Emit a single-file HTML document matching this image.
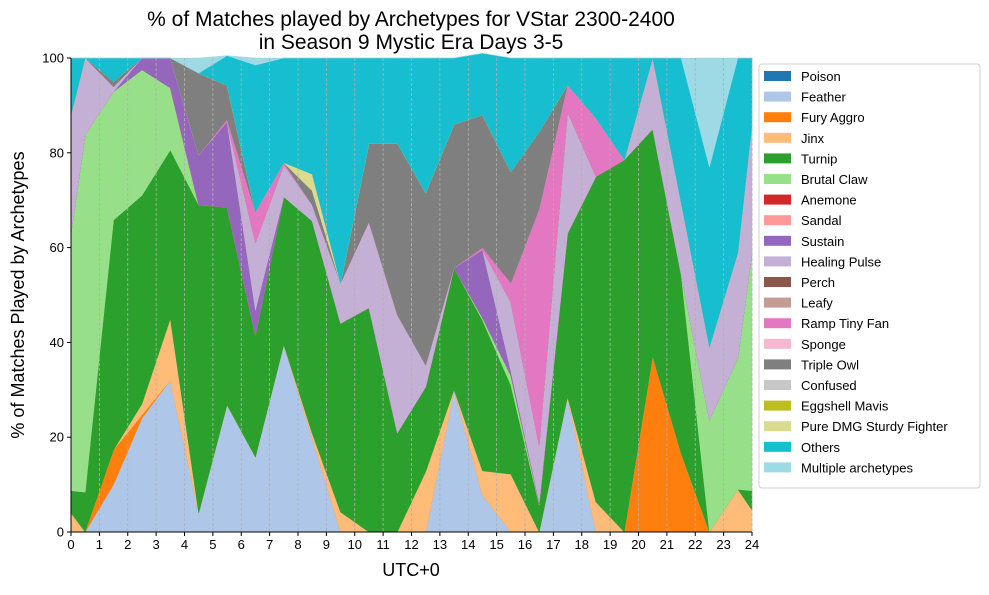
<!DOCTYPE html>
<html><head><meta charset="utf-8"><style>
body{margin:0;background:#fff;}
svg{font-family:"Liberation Sans","DejaVu Sans",sans-serif;}
</style></head><body>
<svg id="c" width="989" height="590" xmlns="http://www.w3.org/2000/svg">
<text x="411" y="26" font-size="21" text-anchor="middle">% of Matches played by Archetypes for VStar 2300-2400</text>
<text x="411" y="49" font-size="21" text-anchor="middle">in Season 9 Mystic Era Days 3-5</text>
<text x="411" y="576" font-size="18" text-anchor="middle">UTC+0</text>
<text transform="translate(24,295) rotate(-90)" font-size="18" text-anchor="middle">% of Matches Played by Archetypes</text>
</svg>
<script>
const hours=[0,0.5,1.5,2.5,3.5,4.5,5.5,6.5,7.5,8.5,9.5,10.5,11.5,12.5,13.5,14.5,15.5,16.5,17.5,18.5,19.5,20.5,21.5,22.5,23.5,24];
const seriesNames=["Poison","Feather","Fury Aggro","Jinx","Turnip","Brutal Claw","Anemone","Sandal","Sustain","Healing Pulse","Perch","Leafy","Ramp Tiny Fan","Sponge","Triple Owl","Confused","Eggshell Mavis","Pure DMG Sturdy Fighter","Others","Multiple archetypes"];
const colors=["#1f77b4","#aec7e8","#ff7f0e","#ffbb78","#2ca02c","#98df8a","#d62728","#ff9896","#9467bd","#c5b0d5","#8c564b","#c49c94","#e377c2","#f7b6d2","#7f7f7f","#c7c7c7","#bcbd22","#dbdb8d","#17becf","#9edae5"];
const poison=  [0,0,0,0,0,0,0,0,0,0,0,0,0,0,0,0,0,0,0,0,0,0,0,0,0,0];
const feather= [0,0,10,24,32,4,26.8,15.8,39.5,19.8,0,0,0,0,30,7.8,0,0,28.5,0,0,0,0,0,0,0];
const fury=    [0,0,7.3,0.7,0,0,0,0,0,0,0,0,0,0,0,0,0,0,0,0,0,37,16.6,0,0,0];
const jinx=    [4,0,0,2.3,13,0,0,0,0,1,4.2,0,0,12.7,0,5.1,12.2,0,0,6.3,0,0,0,0,9,4.6];
const turnip=  [4.7,8.4,48.5,44,35.6,65,41.7,25.7,31.2,44.8,39.8,47.3,20.9,17.9,25.7,31.8,18.8,5.7,34.5,68.7,78.5,48,37.8,0,0,4.1];
const brutal=  [54.3,75.4,27.1,26.5,13.1,0,0,0,0,0,0,0,0,0,0,0.5,2,0.3,0,0,0,0,0,23.6,27.7,50.2];
const anemone= [0,0,0,0,0,0,0,0,0,0,0,0,0,0,0,0,0,0,0,0,0,0,0,0,0,0];
const sandal=  [0,0,0,0,0,0,0,0,0,0,0,0,0,0,0,0,0,0,0,0,0,0,0,0,0,0];
const sustain= [0,0,0,2.5,6.3,10.5,18,5.3,0,0,0,0,0,0,0,14.3,1,0.3,0,0,0,0,0,0,0,0];
const healing= [25,16.2,1,0,0,0,0,14.2,6.7,3.4,8.5,18.1,24.9,4.6,0,0,14.5,12,25.6,0,0,15,15.2,15.4,22.2,27.1];
const perch=   [0,0,0,0,0,0,0,0,0,0,0,0,0,0,0,0,0,0,0,0,0,0,0,0,0,0];
const leafy=   [0,0,0,0,0,0,0,0,0,0,0,0,0,0,0,0,0,0,0,0,0,0,0,0,0,0];
const ramp=    [0,0,0,0,0,0,0.5,6.5,0.5,0,0,0,0,0,0,0.5,4,49.8,5.7,12.3,0,0,0,0,0,0];
const sponge=  [0,0,0,0,0,0,0,0,0,0,0,0,0,0,0,0,0,0,0,0,0,0,0,0,0,0];
const owl=     [0,0,1.1,0,0,17.3,7.2,0,0,3,0,16.6,36.2,36.3,30.3,28,23.5,16.3,0,0,0,0,0,0,0,0];
const confused=[0,0,0,0,0,0,0,0,0,0,0,0,0,0,0,0,0,0,0,0,0,0,0,0,0,0];
const eggshell=[0,0,0,0,0,0,0,0,0,0,0,0,0,0,0,0,0,0,0,0,0,0,0,0,0,0];
const pureDmg= [0,0,0,0,0,0,0,0,0,3.5,0,0,0,0,0,0,0,0,0,0,0,0,0,0,0,0];
const others=  [12,0,5,0,0,0,6.3,31,22.1,24.5,47.5,18,18,28.5,14,13,24,15.6,5.7,12.7,21.5,0,30.4,38,41.1,14];
const multiple=[0,0,0,0,0,3.2,0,1.5,0,0,0,0,0,0,0,0,0,0,0,0,0,0,0,23,0,0];
const xTicks=[0,1,2,3,4,5,6,7,8,9,10,11,12,13,14,15,16,17,18,19,20,21,22,23,24];
const yTicks=[0,20,40,60,80,100];
const series=[poison,feather,fury,jinx,turnip,brutal,anemone,sandal,sustain,healing,perch,leafy,ramp,sponge,owl,confused,eggshell,pureDmg,others,multiple];

const svg=document.getElementById('c');
const NS='http://www.w3.org/2000/svg';
const X0=71,X1=752,Y0=532,Y1=58;
const xs=h=>X0+(h/24)*(X1-X0);
const ys=v=>Y0-(v/100)*(Y0-Y1);
function mk(t,a){const e=document.createElementNS(NS,t);for(const k in a)e.setAttribute(k,a[k]);svg.appendChild(e);return e;}
let base=hours.map(()=>0);
series.forEach((s,i)=>{
  const top=base.map((b,j)=>b+s[j]);
  let d='M'+hours.map((h,j)=>xs(h)+','+ys(top[j])).join('L');
  for(let j=hours.length-1;j>=0;j--)d+='L'+xs(hours[j])+','+ys(base[j]);
  d+='Z';
  const p=mk('path',{d:d,fill:colors[i],stroke:colors[i],'stroke-width':0.5});
  
  
  base=top;
});
xTicks.forEach(t=>{
  const g=mk('line',{x1:xs(t),x2:xs(t),y1:Y1,y2:Y0,stroke:'#b0b0b0','stroke-width':0.8,'stroke-dasharray':'3,2'});
  
  
  const k=mk('line',{x1:xs(t),x2:xs(t),y1:Y0,y2:Y0+4,stroke:'#000'});
  
  
  const l=mk('text',{x:xs(t),y:Y0+17,'font-size':13,'text-anchor':'middle'});
  l.textContent=t;
  
  
});
yTicks.forEach(t=>{
  const k=mk('line',{x1:X0-4,x2:X0,y1:ys(t),y2:ys(t),stroke:'#000'});
  
  
  const l=mk('text',{x:X0-7,y:ys(t)+4.5,'font-size':13,'text-anchor':'end'});
  l.textContent=t;
  
  
});
const ax=mk('path',{d:`M${X0},${Y1}V${Y0}H${X1}`,fill:'none',stroke:'#000','stroke-width':1});


const lb=mk('rect',{x:759,y:64,width:221,height:424,rx:3,fill:'#fff',stroke:'#d0d0d0'});


seriesNames.forEach((n,i)=>{
  const y=76+i*20.6;
  const r=mk('rect',{x:764,y:y-5,width:27,height:10,fill:colors[i]});
  
  
  const t=mk('text',{x:801,y:y+5,'font-size':13});
  t.textContent=n;
  
  
});
</script>
</body></html>
